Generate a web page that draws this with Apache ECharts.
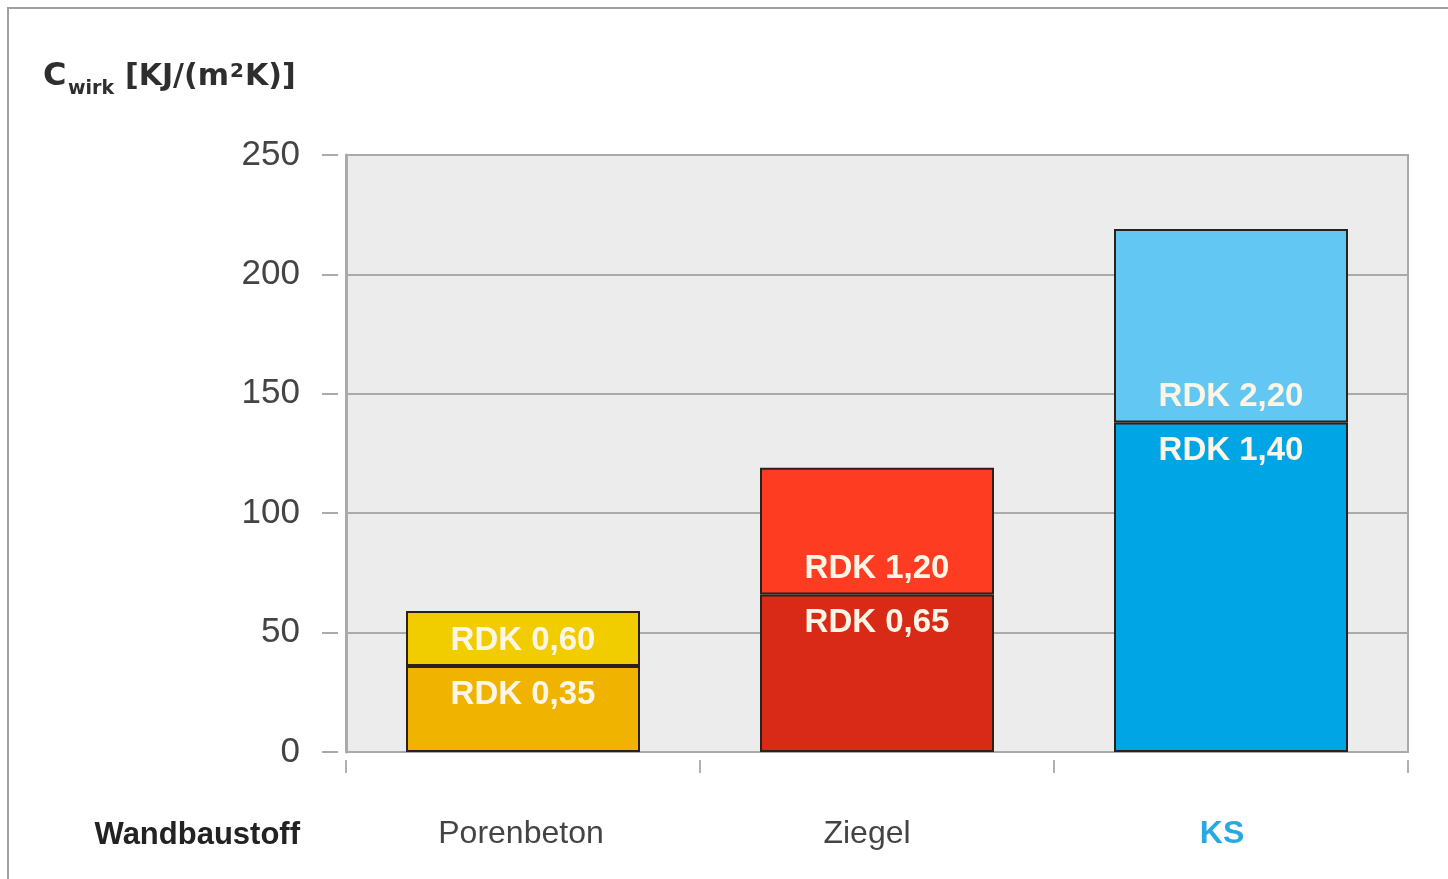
<!DOCTYPE html>
<html><head><meta charset="utf-8">
<script src="https://cdn.jsdelivr.net/npm/echarts@6/dist/echarts.min.js"></script>
<style>html,body{margin:0;padding:0;background:#fff}#c{width:1448px;height:879px}</style>
</head><body><div id="c"></div>
<script>
const categories = ['Porenbeton', 'Ziegel', 'KS'];
const lowValues = [36, 66, 138];      // C_wirk for lower RDK
const highValues = [59, 119, 219];    // C_wirk for higher RDK
const lowRdk = ['0,35', '0,65', '1,40'];
const highRdk = ['0,60', '1,20', '2,20'];
const lowColors = ['#efb300', '#d92a18', '#00a5e6'];
const highColors = ['#f1cd00', '#fd3c22', '#62c8f3'];
const yTicks = [0, 50, 100, 150, 200, 250];

const FONT = '"Liberation Sans", Arial, sans-serif';
const TFONT = '"DejaVu Sans", sans-serif';
const chart = echarts.init(document.getElementById('c'), null, {renderer: 'canvas'});

const labelBase = {
  show: true, color: '#fdf6e6', fontFamily: FONT, fontWeight: 'bold', fontSize: 33
};
const barBorder = {borderColor: '#2b2118', borderWidth: 2};
const catShift = [[0, 4, 0, 0], [0, 20, 0, 0], [0, 18, 0, 0]];

chart.setOption({
  animation: false,
  backgroundColor: '#ffffff',
  grid: [
    {left: 346, right: 40, top: 155, bottom: 127, show: true,
     backgroundColor: '#ececec', borderColor: '#aaaaaa', borderWidth: 2},
    {left: 346, right: 40, top: 163, bottom: 119, show: false}
  ],
  xAxis: [{
    type: 'category', gridIndex: 0,
    data: categories.map((c, i) => ({value: c, textStyle: Object.assign({padding: catShift[i]},
      i === 2 ? {color: '#2aa8e2', fontWeight: 'bold'} : {})})),
    axisLine: {show: true, lineStyle: {color: '#aaaaaa', width: 2}},
    axisTick: {show: false},
    axisLabel: {margin: 66, fontSize: 32, color: '#444', fontFamily: FONT}
  }, {
    type: 'category', gridIndex: 1, data: categories, position: 'bottom',
    axisLine: {show: false},
    axisTick: {show: true, length: 13, lineStyle: {color: '#b0b0b0', width: 2}},
    axisLabel: {show: false}
  }],
  yAxis: [{
    type: 'value', gridIndex: 0, min: yTicks[0], max: yTicks[yTicks.length - 1], interval: 50,
    axisLine: {show: true, lineStyle: {color: '#aaaaaa', width: 3}},
    axisTick: {show: false},
    splitLine: {show: true, lineStyle: {color: '#aaaaaa', width: 2}},
    axisLabel: {margin: 46, fontSize: 35, color: '#444', fontFamily: FONT, padding: [6, 0, 0, 0]}
  }, {
    type: 'value', gridIndex: 0, min: yTicks[0], max: yTicks[yTicks.length - 1], interval: 50,
    position: 'left', offset: 8,
    axisLine: {show: false},
    axisTick: {show: true, length: 16, lineStyle: {color: '#aaaaaa', width: 2}},
    splitLine: {show: false},
    axisLabel: {show: false}
  }, {
    type: 'value', gridIndex: 1, min: 0, max: 250, show: false
  }],
  series: [{
    type: 'bar', stack: 'a', barWidth: 234, xAxisIndex: 0, yAxisIndex: 0,
    data: lowValues.map((v, i) => ({value: v, itemStyle: {color: lowColors[i]}})),
    itemStyle: barBorder,
    label: Object.assign({}, labelBase, {position: 'insideTop', distance: 12,
      formatter: p => 'RDK ' + lowRdk[p.dataIndex]})
  }, {
    type: 'bar', stack: 'a', barWidth: 234, xAxisIndex: 0, yAxisIndex: 0,
    data: highValues.map((v, i) => ({value: v - lowValues[i], itemStyle: {color: highColors[i]}})),
    itemStyle: barBorder,
    label: Object.assign({}, labelBase, {position: 'insideBottom', distance: 9,
      formatter: p => 'RDK ' + highRdk[p.dataIndex]})
  }],
  graphic: [
    {type: 'rect', silent: true, z: -1, shape: {x: 8, y: 8, width: 1500, height: 1000},
     style: {fill: 'none', stroke: '#a0a0a0', lineWidth: 2}},
    {type: 'text', x: 43, y: 77, style: {text: 'C', font: 'bold 32px ' + TFONT, fill: '#2e2e2e',
     textVerticalAlign: 'middle'}},
    {type: 'text', x: 68, y: 89, style: {text: 'wirk', font: 'bold 19px ' + TFONT, fill: '#2e2e2e',
     textVerticalAlign: 'middle'}},
    {type: 'text', x: 125, y: 62, style: {
      text: '{a|[KJ/(m}{s|2}{a|K)]}', fill: '#2e2e2e',
      rich: {a: {font: 'bold 30px ' + TFONT, fill: '#2e2e2e', lineHeight: 36, verticalAlign: 'top'},
             s: {font: 'bold 20px ' + TFONT, fill: '#2e2e2e', lineHeight: 36, verticalAlign: 'top', padding: [0, 1, 14, 1]}}
    }},
    {type: 'text', x: 300, y: 835, style: {text: 'Wandbaustoff', font: 'bold 31px ' + FONT, fill: '#222',
     textAlign: 'right', textVerticalAlign: 'middle'}}
  ]
});
</script></body></html>
